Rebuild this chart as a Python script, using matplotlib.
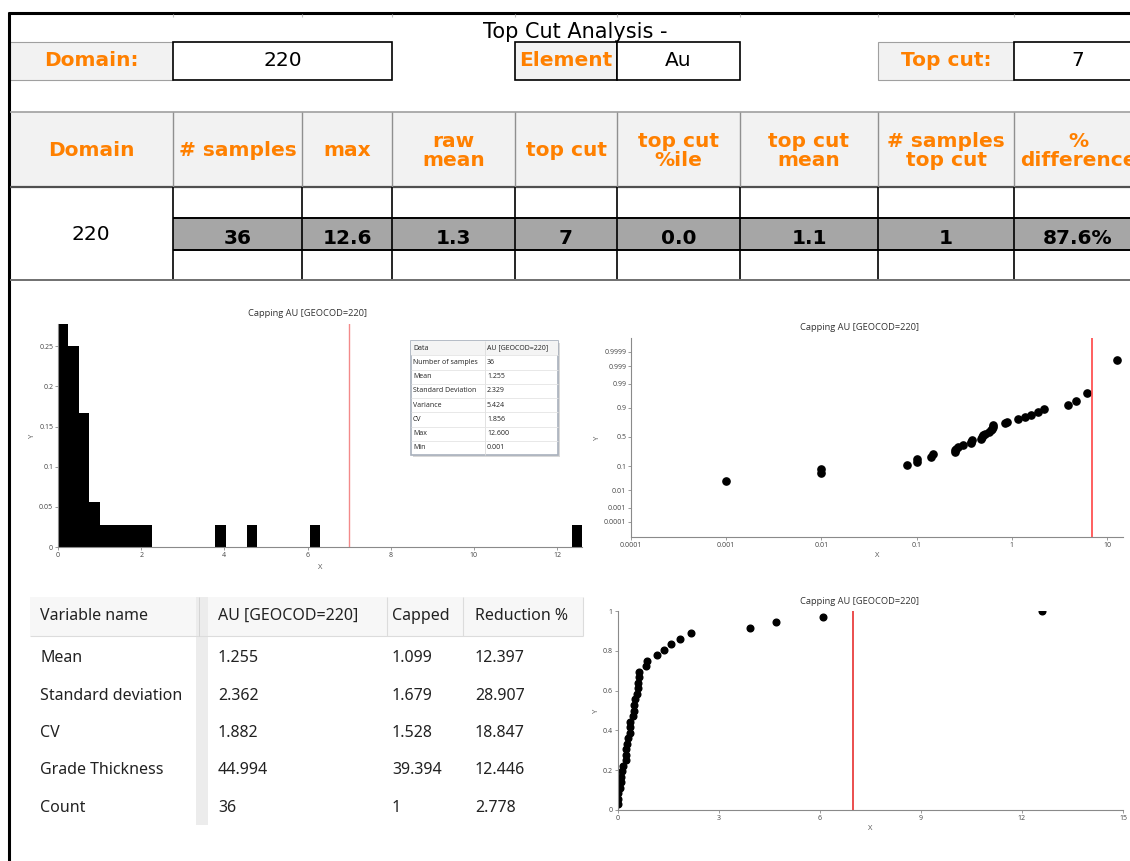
import numpy as np
import matplotlib
matplotlib.use('Agg')
import matplotlib.pyplot as plt
from matplotlib.patches import Rectangle
from statistics import NormalDist

W, H = 1130, 861

# ---- sheet data ----
domain = '220'
element = 'Au'
top_cut = 7
summary_headers = ['Domain', '# samples', 'max', 'raw\nmean', 'top cut', 'top cut\n%ile',
                   'top cut\nmean', '# samples\ntop cut', '%\ndifference']
summary_values = ['36', '12.6', '1.3', '7', '0.0', '1.1', '1', '87.6%']

au_values = [0.001, 0.01, 0.01, 0.08, 0.1, 0.1, 0.14, 0.15, 0.25, 0.25,
             0.26, 0.27, 0.31, 0.37, 0.37, 0.38, 0.47, 0.48, 0.5,
             0.52, 0.58, 0.6, 0.62, 0.63, 0.64,
             0.85, 0.89, 1.17, 1.39, 1.58, 1.86, 2.17,
             3.93, 4.7, 6.09, 12.6]

stats_labels = ['Data', 'Number of samples', 'Mean', 'Standard Deviation', 'Variance', 'CV', 'Max', 'Min']
stats_values = ['AU [GEOCOD=220]', '36', '1.255', '2.329', '5.424', '1.856', '12.600', '0.001']

compare_header = ['Variable name', 'AU [GEOCOD=220]', 'Capped', 'Reduction %']
compare_rows = ['Mean', 'Standard deviation', 'CV', 'Grade Thickness', 'Count']
raw_stats = ['1.255', '2.362', '1.882', '44.994', '36']
capped_stats = ['1.099', '1.679', '1.528', '39.394', '1']
reduction_pct = ['12.397', '28.907', '18.847', '12.446', '2.778']

chart_title = 'Capping AU [GEOCOD=220]'

ORANGE = '#ff8000'
LIGHT = '#f2f2f2'
BAND = '#a6a6a6'
SHEET_FONT = 'DejaVu Sans'
CHART_FONT = 'Open Sans'
FS = 14.5

fig = plt.figure(figsize=(W / 100, H / 100), dpi=100)
bg = fig.add_axes([0, 0, 1, 1])
bg.set_xlim(0, W)
bg.set_ylim(H, 0)
bg.axis('off')


def rect(x0, y0, x1, y1, fc='none', ec='none', lw=1.0, z=1):
    bg.add_patch(Rectangle((x0, y0), x1 - x0, y1 - y0, facecolor=fc, edgecolor=ec, lw=lw, zorder=z))


def hline(y, x0, x1, c='black', lw=1.0, z=3):
    bg.plot([x0, x1], [y, y], color=c, lw=lw, zorder=z, solid_capstyle='butt')


def vline(x, y0, y1, c='black', lw=1.0, z=3):
    bg.plot([x, x], [y0, y1], color=c, lw=lw, zorder=z, solid_capstyle='butt')


def txt(x, y, s, size=FS, color='black', weight='normal', ha='center', family=SHEET_FONT, z=5):
    bg.text(x, y, s, fontsize=size, color=color, weight=weight, ha=ha, va='center',
            family=family, zorder=z, linespacing=1.05)


# ---- spreadsheet part ----
cols = [10, 173, 302, 392, 515, 617, 740, 878, 1014, 1135]

hline(13, 8, W, lw=2.2)
vline(9, 12, H, lw=2.2)
for x in cols[1:-1]:
    vline(x, 14, 17, c='#c0c0c0', lw=0.8)

txt(575, 32, 'Top Cut Analysis -', size=15)

# input row
rect(10, 42, 173, 80, fc=LIGHT, ec='#a0a0a0', lw=0.8)
txt(91, 61, 'Domain:', color=ORANGE, weight='bold')
rect(173, 42, 392, 80, fc='white', ec='black', lw=1.2, z=2)
txt(283, 61, domain)
rect(515, 42, 617, 80, fc=LIGHT, ec='black', lw=1.2)
txt(566, 61, 'Element', color=ORANGE, weight='bold')
rect(617, 42, 740, 80, fc='white', ec='black', lw=1.2, z=2)
txt(678, 61, element)
rect(878, 42, 1014, 80, fc=LIGHT, ec='#a0a0a0', lw=0.8)
txt(946, 61, 'Top cut:', color=ORANGE, weight='bold')
rect(1014, 42, 1140, 80, fc='white', ec='black', lw=1.2, z=2)
txt(1078, 61, str(top_cut))

# header row
rect(10, 112, W, 187, fc=LIGHT)
hline(112, 10, W, c='#a0a0a0', lw=1.2)
hline(187, 10, W, c='#505050', lw=1.6)
for x in cols[1:-1]:
    vline(x, 112, 187, c='#909090', lw=1.0)
for i, h in enumerate(summary_headers):
    cx = (cols[i] + cols[i + 1]) / 2
    if i == len(summary_headers) - 1:
        cx = 1078
    txt(cx, 151, h, color=ORANGE, weight='bold')

# data rows
rect(173, 218, W, 250, fc=BAND)
hline(218, 173, W, lw=1.4)
hline(250, 173, W, lw=1.4)
for x in cols[1:-1]:
    vline(x, 187, 280, lw=1.2)
txt(91, 235, domain)
for i, v in enumerate(summary_values):
    cx = (cols[i + 1] + cols[i + 2]) / 2
    if i == len(summary_values) - 1:
        cx = 1078
    txt(cx, 238, v, weight='bold')
hline(280, 10, W, c='#707070', lw=1.4)


def px_axes(x0, y0, x1, y1):
    ax = fig.add_axes([x0 / W, 1 - y1 / H, (x1 - x0) / W, (y1 - y0) / H])
    ax.set_facecolor('none')
    for s in ['top', 'right']:
        ax.spines[s].set_visible(False)
    for s in ['left', 'bottom']:
        ax.spines[s].set_color('#8a8a8a')
        ax.spines[s].set_linewidth(0.8)
    ax.tick_params(length=2, width=0.6, color='#8a8a8a', labelsize=5, labelcolor='#444444', pad=1.5)
    return ax


def style_labels(ax):
    for lab in ax.get_xticklabels() + ax.get_yticklabels():
        lab.set_family(CHART_FONT)
    ax.set_xlabel('X', fontsize=5.5, color='#555555', family=CHART_FONT, labelpad=2)
    ax.set_ylabel('Y', fontsize=5.5, color='#555555', family=CHART_FONT, labelpad=2)


vals = np.array(au_values)
n = len(vals)

# ---- histogram ----
ax1 = px_axes(58, 324, 582, 547)
ax1.hist(vals, bins=np.linspace(0, vals.max(), 51), weights=np.full(n, 1 / n), color='black')
ax1.axvline(top_cut, color='#f38a8a', lw=1.0)
ax1.set_xlim(0, vals.max())
ax1.set_ylim(0, 10 / 36)
ax1.set_xticks(np.arange(0, 13, 2))
ax1.set_yticks([0, 0.05, 0.1, 0.15, 0.2, 0.25])
ax1.set_yticklabels(['0', '0.05', '0.1', '0.15', '0.2', '0.25'])
style_labels(ax1)
ax1.xaxis.labelpad = 4
bg.text(307, 313, chart_title, fontsize=6.7, color='#333333', ha='center', va='center', family=CHART_FONT)

# stats box inside histogram
bx0, by0, bx1, by1, split = 411, 341, 558, 455, 485
rect(bx0 + 2, by0 + 2, bx1 + 2, by1 + 2, fc='#d8d8d8', z=1)
rect(bx0, by0, bx1, by1, fc='white', ec='#a8b0bc', lw=1.2, z=2)
rh = (by1 - by0) / len(stats_labels)
rect(bx0, by0, bx1, by0 + rh, fc='#f4f4f4', z=2)
vline(split, by0, by1, c='#dddddd', lw=0.6)
for k, (lab, val) in enumerate(zip(stats_labels, stats_values)):
    yc = by0 + rh * (k + 0.5)
    if k > 0:
        hline(by0 + rh * k, bx0, bx1, c='#e4e4e4', lw=0.6)
    txt(bx0 + 2, yc, lab, size=5, ha='left', family=CHART_FONT, color='#222222')
    txt(split + 2, yc, val, size=5, ha='left', family=CHART_FONT, color='#222222')

# ---- probability plot ----
nd = NormalDist()
probs = np.clip(np.arange(1, n + 1) / n, 0.0001, 0.99963)
ax2 = px_axes(631, 338, 1123, 537)
ax2.set_xscale('log')
ax2.plot(vals, [nd.inv_cdf(p) for p in probs], 'o', color='black', ms=5.2)
ax2.axvline(top_cut, color='#ff4444', lw=1.2)
ax2.set_xlim(1e-4, 14.7)
ax2.set_ylim(-4.38, 4.33)
ax2.set_xticks([1e-4, 1e-3, 1e-2, 1e-1, 1, 10])
ax2.set_xticklabels(['0.0001', '0.001', '0.01', '0.1', '1', '10'])
ax2.xaxis.set_minor_locator(matplotlib.ticker.NullLocator())
prob_ticks = [0.0001, 0.001, 0.01, 0.1, 0.5, 0.9, 0.99, 0.999, 0.9999]
ax2.set_yticks([nd.inv_cdf(p) for p in prob_ticks])
ax2.set_yticklabels([str(p) for p in prob_ticks])
style_labels(ax2)
bg.text(859, 328, chart_title, fontsize=6.7, color='#333333', ha='center', va='center', family=CHART_FONT)

# ---- cumulative plot ----
ax3 = px_axes(617.5, 611, 1123, 810)
ax3.plot(vals, np.arange(1, n + 1) / n, 'o', color='black', ms=4.8)
ax3.axvline(top_cut, color='#e83030', lw=1.2)
ax3.set_xlim(0, 15)
ax3.set_ylim(0, 1)
ax3.set_xticks([0, 3, 6, 9, 12, 15])
ax3.set_yticks([0, 0.2, 0.4, 0.6, 0.8, 1])
ax3.set_yticklabels(['0', '0.2', '0.4', '0.6', '0.8', '1'])
style_labels(ax3)
bg.text(859, 601, chart_title, fontsize=6.7, color='#333333', ha='center', va='center', family=CHART_FONT)

# ---- comparison table ----
TF = 'Noto Sans'
tx = [40, 218, 392, 475]
rect(30, 597, 583, 636, fc='#f7f7f7', ec='none')
hline(636, 30, 583, c='#dcdcdc', lw=0.8)
vline(583, 597, 636, c='#dcdcdc', lw=0.8)
for x in [387, 463]:
    vline(x, 597, 636, c='#dcdcdc', lw=0.8)
rect(196, 597, 208, 825, fc='#ececec')
vline(199, 597, 636, c='#d0d0d0', lw=0.6)
for x, h in zip(tx, compare_header):
    txt(x, 616, h, size=11.5, ha='left', family=TF, color='#222222')
for r, label in enumerate(compare_rows):
    yc = 658 + r * 37.5
    row = [label, raw_stats[r], capped_stats[r], reduction_pct[r]]
    for x, s in zip(tx, row):
        txt(x, yc, s, size=11.5, ha='left', family=TF, color='#222222')

fig.savefig('out.png', dpi=100)
